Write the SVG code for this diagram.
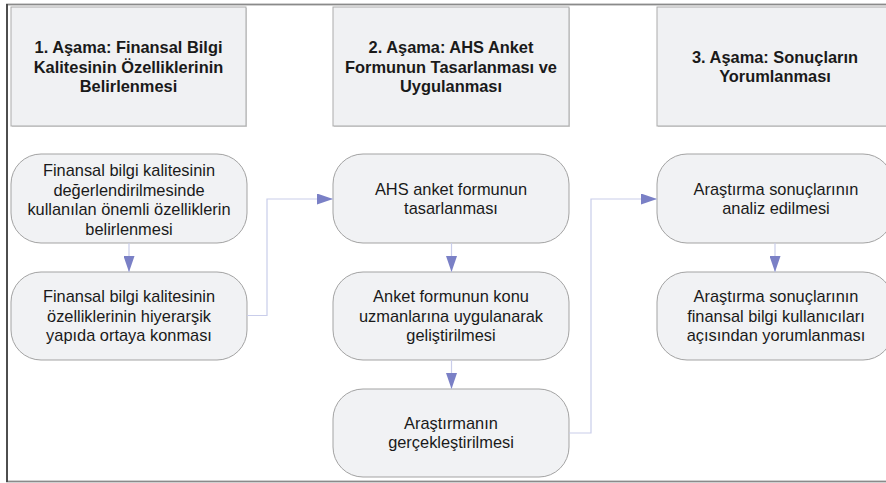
<svg xmlns="http://www.w3.org/2000/svg" width="886" height="483" viewBox="0 0 886 483">
<style>
.hdr{fill:#f0f1f3;stroke:#ababab;stroke-width:1}
.shadow{fill:#d6d6d6}
.node{fill:#f1f2f4;stroke:#a3a3a3;stroke-width:1}
.ht{font-family:"Liberation Sans",Arial,sans-serif;font-size:16.4px;font-weight:bold;fill:#1a1a1a;text-anchor:middle}
.nt{font-family:"Liberation Sans",Arial,sans-serif;font-size:16.4px;fill:#1a1a1a;text-anchor:middle}
.conn{fill:none;stroke:#c9cdea;stroke-width:1.2}
</style>
<defs>
<marker id="arr" markerWidth="16" markerHeight="11" refX="16" refY="5.5" orient="auto" markerUnits="userSpaceOnUse">
<path d="M0,0 L16,5.5 L0,11 Z" fill="#7a80c6"/>
</marker>
</defs>
<rect x="0" y="0" width="886" height="483" fill="#ffffff"/>
<rect x="7" y="4.5" width="900" height="477" fill="none" stroke="#8a8a8a" stroke-width="1.8"/>
<line x1="7" y1="4" x2="7" y2="482" stroke="#3c3c3c" stroke-width="1.6"/>

<g id="header1">
<rect class="shadow" x="12" y="8" width="235" height="119"/>
<rect class="hdr" x="11" y="7" width="235" height="119"/>
<text class="ht" x="128.5" y="53">1. Aşama: Finansal Bilgi</text>
<text class="ht" x="128.5" y="72.5">Kalitesinin Özelliklerinin</text>
<text class="ht" x="128.5" y="92">Belirlenmesi</text>
</g>
<g id="header2">
<rect class="shadow" x="334" y="8" width="236" height="119"/>
<rect class="hdr" x="333" y="7" width="236" height="119"/>
<text class="ht" x="451" y="53">2. Aşama: AHS Anket</text>
<text class="ht" x="451" y="72.5">Formunun Tasarlanması ve</text>
<text class="ht" x="451" y="92">Uygulanması</text>
</g>
<g id="header3">
<rect class="shadow" x="658" y="8" width="236" height="119"/>
<rect class="hdr" x="657" y="7" width="236" height="119"/>
<text class="ht" x="775" y="62.5">3. Aşama: Sonuçların</text>
<text class="ht" x="775" y="82">Yorumlanması</text>
</g>

<g id="n1a">
<rect class="node" x="11" y="154" width="236" height="89" rx="30" ry="30"/>
<text class="nt" x="129" y="176">Finansal bilgi kalitesinin</text>
<text class="nt" x="129" y="195.5">değerlendirilmesinde</text>
<text class="nt" x="129" y="215">kullanılan önemli özelliklerin</text>
<text class="nt" x="129" y="234.5">belirlenmesi</text>
</g>
<g id="n1b">
<rect class="node" x="11" y="272" width="236" height="88" rx="30" ry="30"/>
<text class="nt" x="129" y="302">Finansal bilgi kalitesinin</text>
<text class="nt" x="129" y="321.5">özelliklerinin hiyerarşik</text>
<text class="nt" x="129" y="341">yapıda ortaya konması</text>
</g>
<g id="n2a">
<rect class="node" x="333" y="154" width="236" height="89" rx="30" ry="30"/>
<text class="nt" x="451" y="194.5">AHS anket formunun</text>
<text class="nt" x="451" y="214">tasarlanması</text>
</g>
<g id="n2b">
<rect class="node" x="333" y="272" width="236" height="88" rx="30" ry="30"/>
<text class="nt" x="451" y="302">Anket formunun konu</text>
<text class="nt" x="451" y="321.5">uzmanlarına uygulanarak</text>
<text class="nt" x="451" y="341">geliştirilmesi</text>
</g>
<g id="n2c">
<rect class="node" x="333" y="389" width="236" height="88" rx="30" ry="30"/>
<text class="nt" x="451" y="428.5">Araştırmanın</text>
<text class="nt" x="451" y="448">gerçekleştirilmesi</text>
</g>
<g id="n3a">
<rect class="node" x="657" y="154" width="236" height="89" rx="30" ry="30"/>
<text class="nt" x="776" y="194.5">Araştırma sonuçlarının</text>
<text class="nt" x="776" y="214">analiz edilmesi</text>
</g>
<g id="n3b">
<rect class="node" x="657" y="272" width="236" height="88" rx="30" ry="30"/>
<text class="nt" x="776" y="302">Araştırma sonuçlarının</text>
<text class="nt" x="776" y="321.5">finansal bilgi kullanıcıları</text>
<text class="nt" x="776" y="341">açısından yorumlanması</text>
</g>

<g id="connectors">
<path class="conn" d="M129,243 V272" marker-end="url(#arr)"/>
<path class="conn" d="M247,315.5 H267 V199 H333" marker-end="url(#arr)"/>
<path class="conn" d="M451.5,243 V272" marker-end="url(#arr)"/>
<path class="conn" d="M451.5,360 V389" marker-end="url(#arr)"/>
<path class="conn" d="M569,433 H591 V199 H657" marker-end="url(#arr)"/>
<path class="conn" d="M775,243 V272" marker-end="url(#arr)"/>
</g>
</svg>
